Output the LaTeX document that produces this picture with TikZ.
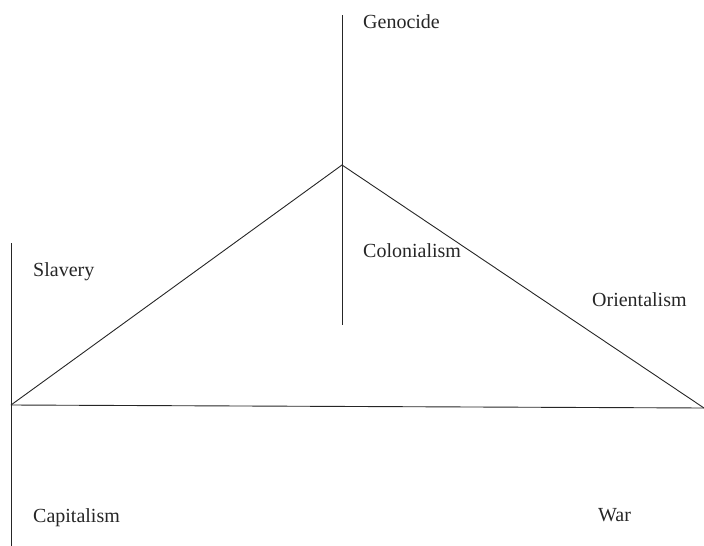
\documentclass[tikz,border=0pt]{standalone}
\usepackage{fontspec}
\setmainfont{Liberation Serif}
\usetikzlibrary{calc}
\tikzset{
  axisline/.style={draw=black!85,line width=0.9pt},
  term/.style={anchor=base west,inner sep=0pt,font=\fontsize{20}{24}\selectfont,text=black!85}
}

\begin{document}
\begin{tikzpicture}[x=1pt,y=-1pt]
    \useasboundingbox (0,0) rectangle (704,546);

    % Coordinates
    \path (342,165) coordinate (A)
      (11,405) coordinate (B)
      (704,408) coordinate (C)
      (342,15) coordinate (Vtop) (342,325) coordinate (Vbot)
      (11,243) coordinate (Htop) (11,546) coordinate (Hbot)
      ;

    % Lines
    \draw[axisline] (Vtop) -- (Vbot);
    \draw[axisline] (Htop) -- (Hbot);
    \draw[axisline] (B) -- (A) -- (C);
    \draw[axisline] (B) -- (C);

    % Labels
    \node[term] (genocide) at (363,28) {Genocide};
    \node[term] (slavery) at (33,276) {Slavery};
    \node[term] (colonialism) at (363,257) {Colonialism};
    \node[term] (orientalism) at (592,306) {Orientalism};
    \node[term] (capitalism) at (33,522) {Capitalism};
    \node[term] (war) at (598,521) {War};

  \end{tikzpicture}
\end{document}
